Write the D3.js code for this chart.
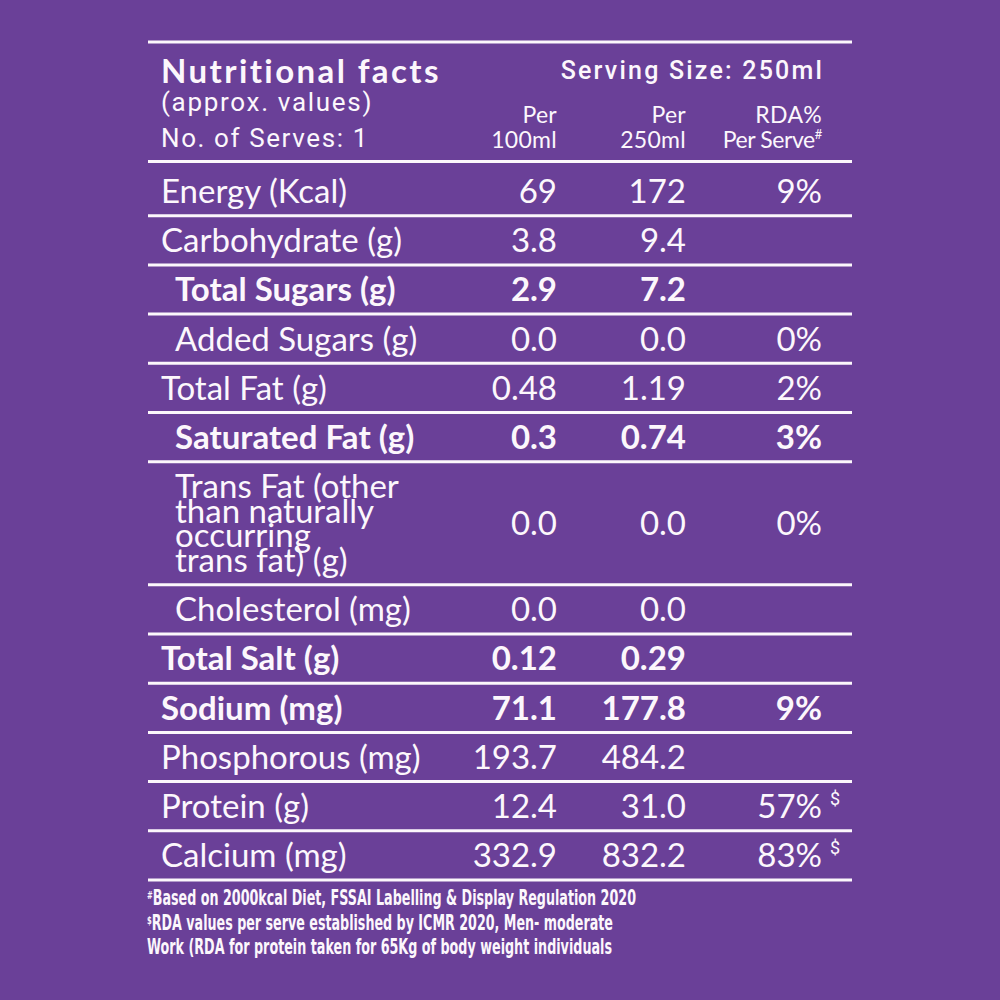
<!DOCTYPE html>
<html>
<head>
<meta charset="utf-8">
<script src="https://cdn.jsdelivr.net/npm/d3@7"></script>
<style>
  html, body { margin: 0; padding: 0; background: #6a4098; }
  svg { display: block; }
</style>
</head>
<body>
<div id="label"></div>
<script>
// Table data
var nutrients = ["Energy (Kcal)", "Carbohydrate (g)", "Total Sugars (g)", "Added Sugars (g)",
  "Total Fat (g)", "Saturated Fat (g)",
  "Trans Fat (other|than naturally|occurring|trans fat) (g)",
  "Cholesterol (mg)", "Total Salt (g)", "Sodium (mg)", "Phosphorous (mg)", "Protein (g)", "Calcium (mg)"];
var per100ml = ["69", "3.8", "2.9", "0.0", "0.48", "0.3", "0.0", "0.0", "0.12", "71.1", "193.7", "12.4", "332.9"];
var per250ml = ["172", "9.4", "7.2", "0.0", "1.19", "0.74", "0.0", "0.0", "0.29", "177.8", "484.2", "31.0", "832.2"];
var rdaPerServe = ["9%", "", "", "0%", "2%", "3%", "0%", "", "", "9%", "", "57%", "83%"];
var rdaNote = ["", "", "", "", "", "", "", "", "", "", "", "$", "$"];
// sub-nutrients sit under a parent, key nutrients are emphasised
var subItem = [false, false, true, true, false, true, true, true, false, false, false, false, false];
var keyItem = [false, false, true, false, false, true, false, false, true, true, false, false, false];

var columns = ["Per|100ml", "Per|250ml", "RDA%|Per Serve"];
var footnotes = [
  ["#", "Based on 2000kcal Diet, FSSAI Labelling & Display Regulation 2020"],
  ["$", "RDA values per serve established by ICMR 2020, Men- moderate"],
  ["", "Work (RDA for protein taken for 65Kg of body weight individuals"]
];

var W = 1000, H = 1000;
var ink = "#fcf7fc";
var labelFont = "Lato, 'Open Sans', sans-serif";
var headFont = "Roboto, 'Liberation Sans', sans-serif";
var noteFont = "'Liberation Sans Narrow', 'DejaVu Sans Condensed', Roboto, sans-serif";

var svg = d3.select("#label").append("svg")
  .attr("width", W).attr("height", H);

svg.append("rect").attr("width", W).attr("height", H).attr("fill", "#6a4098");

// row heights: a wrapped label makes its row taller
var units = nutrients.map(function(d) { return d.split("|").length > 1 ? 2.5 : 1; });
var cum = [0];
units.forEach(function(u, i) { cum.push(cum[i] + u); });

var y = d3.scaleLinear().domain([0, d3.sum(units)]).range([166.5, 880]);
var x = d3.scaleOrdinal().domain(["label", "sub", "c0", "c1", "c2"]).range([161, 175, 557, 686, 822]);

// rules: top, under header, then under every row
var rules = [42, 161.5].concat(cum.slice(1).map(function(c) { return y(c); }));
svg.selectAll("line.rule").data(rules).enter().append("line")
  .attr("class", "rule")
  .attr("x1", 148).attr("x2", 852)
  .attr("y1", function(d) { return d; }).attr("y2", function(d) { return d; })
  .attr("stroke", ink).attr("stroke-width", 3);

// header
var head = svg.append("g").attr("fill", ink);
head.append("text").attr("x", x("label")).attr("y", 83)
  .attr("font-family", labelFont).attr("font-weight", 700).attr("font-size", 33).attr("letter-spacing", 2.4)
  .text("Nutritional facts");
head.append("text").attr("x", x("c2") + 2).attr("y", 79).attr("text-anchor", "end")
  .attr("font-family", headFont).attr("font-weight", 500).attr("font-size", 25).attr("letter-spacing", 2.2)
  .text("Serving Size: 250ml");
head.append("text").attr("x", x("label")).attr("y", 111)
  .attr("font-family", headFont).attr("font-size", 26).attr("letter-spacing", 1.7)
  .text("(approx. values)");
head.append("text").attr("x", x("label")).attr("y", 147)
  .attr("font-family", headFont).attr("font-size", 26).attr("letter-spacing", 1.6)
  .text("No. of Serves: 1");

columns.forEach(function(c, i) {
  var parts = c.split("|");
  parts.forEach(function(p, j) {
    var t = head.append("text")
      .attr("x", x("c" + i)).attr("y", 123 + j * 25)
      .attr("text-anchor", "end")
      .attr("font-family", labelFont).attr("font-size", 23).attr("letter-spacing", 0.3)
      .text(p);
    if (i === 2 && j === 1) {
      t.attr("letter-spacing", -0.4);
      t.append("tspan").attr("font-size", 13).attr("dy", -9).text("#");
    }
  });
});

// body rows
var rows = svg.selectAll("g.row").data(nutrients).enter().append("g")
  .attr("class", "row")
  .attr("fill", ink)
  .attr("font-family", labelFont)
  .attr("font-size", 33)
  .attr("font-weight", function(d, i) { return keyItem[i] ? 700 : 400; });

rows.each(function(d, i) {
  var g = d3.select(this);
  var mid = (y(cum[i]) + y(cum[i + 1])) / 2;
  var lines = d.split("|");
  var lx = subItem[i] ? x("sub") : x("label");
  var lh = 24.5;
  var label = g.append("text").attr("x", lx).attr("y", mid - (lines.length - 1) / 2 * lh);
  lines.forEach(function(l, j) {
    label.append("tspan").attr("x", lx).attr("dy", j === 0 ? "0.36em" : lh).text(l);
  });
  [per100ml[i], per250ml[i], rdaPerServe[i]].forEach(function(v, k) {
    if (!v) return;
    g.append("text").attr("x", x("c" + k)).attr("y", mid).attr("dy", "0.36em")
      .attr("text-anchor", "end").text(v);
  });
  if (rdaNote[i]) {
    g.append("text").attr("x", x("c2") + 8).attr("y", mid - 1)
      .attr("font-family", headFont).attr("font-weight", 400).attr("font-size", 18)
      .text(rdaNote[i]);
  }
});

// footnotes
var notes = svg.append("g").attr("fill", ink)
  .attr("font-family", noteFont).attr("font-weight", 700).attr("font-size", 20.5);
var noteWidths = [489, 466, 465];
footnotes.forEach(function(f, i) {
  var t = notes.append("text").attr("x", 147).attr("y", 905 + i * 24.5);
  if (f[0]) {
    t.append("tspan").attr("font-size", 11).attr("dy", -6).text(f[0]);
    t.append("tspan").attr("dy", 6).text(f[1]);
  } else {
    t.append("tspan").text(f[1]);
  }
  t.attr("textLength", noteWidths[i]).attr("lengthAdjust", "spacingAndGlyphs");
});
</script>
</body>
</html>
